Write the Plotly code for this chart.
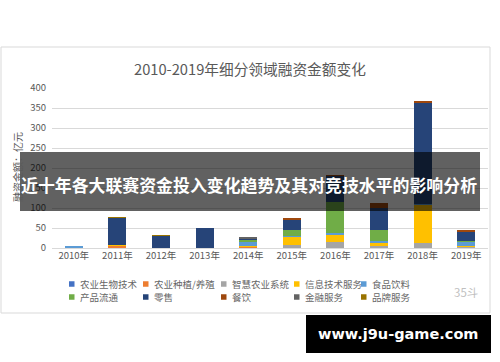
import plotly.graph_objects as go

# ---------------- data ----------------
years = ["2010年", "2011年", "2012年", "2013年", "2014年",
         "2015年", "2016年", "2017年", "2018年", "2019年"]

series_names = ["农业生物技术", "农业种植/养殖", "智慧农业系统", "信息技术服务", "食品饮料",
                "产品流通", "零售", "餐饮", "金融服务", "品牌服务"]

agri_biotech   = [0, 0, 0, 0, 1, 0, 0, 0, 0, 1]
agri_planting  = [0, 6, 0, 0, 2, 0, 0, 2, 0, 0]
smart_agri     = [0, 0, 0, 0, 1, 8, 16, 2, 12, 2]
it_services    = [0, 1, 0, 0, 2, 20, 17, 10, 96, 3]
food_beverage  = [5, 0, 1, 0, 11, 2, 4, 3, 2, 10]
circulation    = [0, 0, 0, 0, 2, 15, 78, 29, 0, 2]
retail         = [0, 68, 30, 49, 5, 27, 65, 55, 253, 22]
catering       = [0, 0, 0, 0, 0, 4, 2, 12, 3, 5]
finance        = [0, 0, 0, 0, 3, 0, 0, 0, 0, 0]
branding       = [0, 1, 1.5, 0, 0, 0, 0, 0, 0, 0]

series_values = [agri_biotech, agri_planting, smart_agri, it_services, food_beverage,
                 circulation, retail, catering, finance, branding]

colors = ["#4472C4", "#ED7D31", "#A5A5A5", "#FFC000", "#5B9BD5",
          "#70AD47", "#264478", "#9E480E", "#636363", "#997300"]

chart_title = "2010-2019年细分领域融资金额变化"
y_title = "融资金额：亿元"
banner_text = "近十年各大联赛资金投入变化趋势及其对竞技水平的影响分析"
watermark_text = "www.j9u-game.com"
logo_text = "35斗"

# ---------------- layout geometry (px) ----------------
WIDTH, HEIGHT = 500, 362
L, R, T, B = 52, 488, 88, 248
PW, PH = R - L, B - T


def px(x):
    return (x - L) / PW


def py(y):
    return (B - y) / PH


FONT = "Noto Sans CJK SC"
GRAY = "#595959"

fig = go.Figure()
for name, vals, col in zip(series_names, series_values, colors):
    fig.add_trace(go.Bar(
        x=years, y=vals, name=name,
        marker=dict(color=col, line=dict(width=0)),
        showlegend=False,
    ))

shapes = []
annotations = []

# chart frame
shapes.append(dict(type="rect", xref="paper", yref="paper",
                   x0=px(1), x1=px(490), y0=py(313), y1=py(47),
                   line=dict(color="#d9d9d9", width=1), fillcolor="rgba(0,0,0,0)",
                   layer="below"))

# title
annotations.append(dict(text=chart_title, xref="paper", yref="paper",
                        x=px(250), y=py(68), xanchor="center", yanchor="middle",
                        showarrow=False, font=dict(family=FONT, size=14.7, color=GRAY)))

# y axis title
annotations.append(dict(text=y_title, xref="paper", yref="paper",
                        x=px(17), y=py(167), xanchor="center", yanchor="middle",
                        textangle=-90, showarrow=False,
                        font=dict(family=FONT, size=10, color=GRAY)))

# legend (two rows of five)
col_x = [69, 143, 221, 294, 361]
row_y = [284, 297]
for i, (name, col) in enumerate(zip(series_names, colors)):
    cx = col_x[i % 5]
    cy = row_y[i // 5]
    shapes.append(dict(type="rect", xref="paper", yref="paper",
                       x0=px(cx), x1=px(cx + 5.5), y0=py(cy + 2.75), y1=py(cy - 2.75),
                       line=dict(width=0), fillcolor=col))
    annotations.append(dict(text=name, xref="paper", yref="paper",
                            x=px(cx + 8.5), y=py(cy), xanchor="left", yanchor="middle",
                            showarrow=False, font=dict(family=FONT, size=9.5, color="#666666")))

# small logo watermark
annotations.append(dict(text=logo_text, xref="paper", yref="paper",
                        x=px(466), y=py(292), xanchor="center", yanchor="middle",
                        showarrow=False, font=dict(family=FONT, size=11.5, color="#bfbfbf")))

# banner overlay
shapes.append(dict(type="rect", xref="paper", yref="paper",
                   x0=px(20), x1=px(480), y0=py(211), y1=py(152),
                   line=dict(width=0), fillcolor="rgba(0,0,0,0.62)", layer="above"))
annotations.append(dict(text="<b>" + banner_text + "</b>", xref="paper", yref="paper",
                        x=px(249), y=py(184), xanchor="center", yanchor="middle",
                        showarrow=False, font=dict(family=FONT, size=16.9, color="white")))

# site watermark
shapes.append(dict(type="rect", xref="paper", yref="paper",
                   x0=px(306), x1=px(491), y0=py(353), y1=py(315),
                   line=dict(width=0), fillcolor="black", layer="above"))
annotations.append(dict(text="<b>" + watermark_text + "</b>", xref="paper", yref="paper",
                        x=px(398), y=py(334), xanchor="center", yanchor="middle",
                        showarrow=False, font=dict(family="DejaVu Sans", size=14.5, color="white")))

fig.update_layout(
    width=WIDTH, height=HEIGHT, autosize=False,
    margin=dict(l=L, r=WIDTH - R, t=T, b=HEIGHT - B, pad=0),
    paper_bgcolor="white", plot_bgcolor="white",
    barmode="stack", bargap=0.59,
    showlegend=False,
    font=dict(family=FONT, color=GRAY),
    xaxis=dict(type="category", showgrid=False, showline=False, ticks="",
               tickfont=dict(family=FONT, size=9.5, color=GRAY), fixedrange=True),
    yaxis=dict(range=[0, 400], dtick=50, showgrid=True, gridcolor="#d9d9d9", gridwidth=1,
               zeroline=True, zerolinecolor="#d9d9d9", zerolinewidth=1,
               showline=False, ticks="", ticklabelstandoff=5,
               tickfont=dict(family=FONT, size=9.5, color=GRAY), fixedrange=True),
    shapes=shapes,
    annotations=annotations,
)

fig.write_html("out.html", config={"displayModeBar": False},
               post_script="document.body.style.margin='0';document.body.style.overflow='hidden';")
